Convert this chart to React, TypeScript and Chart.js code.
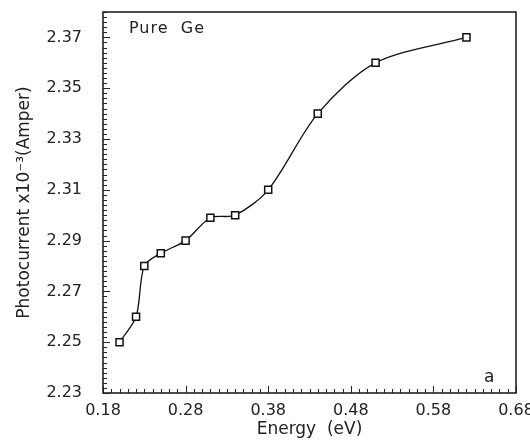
import React, { useEffect, useRef } from 'react';
import { Chart, registerables } from 'chart.js';

Chart.register(...registerables);

const energy = [0.2, 0.22, 0.23, 0.25, 0.28, 0.31, 0.34, 0.38, 0.44, 0.51, 0.62];
const photocurrent = [2.25, 2.26, 2.28, 2.285, 2.29, 2.299, 2.3, 2.31, 2.34, 2.36, 2.37];
const xTickValues = [0.18, 0.28, 0.38, 0.48, 0.58, 0.68];
const yTickValues = [2.23, 2.25, 2.27, 2.29, 2.31, 2.33, 2.35, 2.37];
const xRange = [0.18, 0.68];
const yRange = [2.23, 2.38];
const seriesLabel = 'Pure  Ge';
const panelLabel = 'a';
const xTitle = 'Energy  (eV)';
const yTitle = 'Photocurrent x10\u207B\u00B3(Amper)';

const FONT = '"DejaVu Sans", "Liberation Sans", sans-serif';
const INK = '#222';

const framePlugin = {
  id: 'frame',
  afterDatasetsDraw(chart: any) {
    const { ctx, chartArea } = chart;
    const xs = chart.scales.x;
    const ys = chart.scales.y;
    ctx.save();
    ctx.strokeStyle = INK;
    ctx.lineWidth = 1;
    for (let i = 0; i <= 75; i++) {
      const v = yRange[0] + i * 0.002;
      const py = Math.round(ys.getPixelForValue(v)) + 0.5;
      const len = i % 10 === 0 ? 7 : 4;
      ctx.beginPath();
      ctx.moveTo(chartArea.left, py);
      ctx.lineTo(chartArea.left + len, py);
      ctx.stroke();
    }
    for (let i = 0; i <= 50; i++) {
      const v = xRange[0] + i * 0.01;
      const px = Math.round(xs.getPixelForValue(v)) + 0.5;
      const len = i % 10 === 0 ? 7 : 4;
      ctx.beginPath();
      ctx.moveTo(px, chartArea.bottom);
      ctx.lineTo(px, chartArea.bottom - len);
      ctx.stroke();
    }
    ctx.lineWidth = 1.6;
    ctx.strokeRect(chartArea.left, chartArea.top, chartArea.right - chartArea.left, chartArea.bottom - chartArea.top);
    ctx.fillStyle = INK;
    ctx.font = `16px ${FONT}`;
    ctx.textBaseline = 'alphabetic';
    ctx.textAlign = 'left';
    try { (ctx as any).letterSpacing = '1px'; } catch (e) {}
    ctx.fillText(seriesLabel, chartArea.left + 26, chartArea.top + 21);
    ctx.font = `17px ${FONT}`;
    ctx.fillText(panelLabel, chartArea.right - 32, chartArea.bottom - 11);
    ctx.restore();
  },
};

export default function App() {
  const ref = useRef<HTMLCanvasElement | null>(null);
  useEffect(() => {
    if (!ref.current) return;
    const chart = new Chart(ref.current, {
      type: 'line',
      data: {
        datasets: [
          {
            label: seriesLabel,
            data: energy.map((x, i) => ({ x, y: photocurrent[i] })),
            borderColor: '#111',
            borderWidth: 1.3,
            backgroundColor: '#fff',
            pointStyle: 'rect',
            pointRadius: 5,
            pointBorderWidth: 1.5,
            pointBorderColor: '#111',
            pointBackgroundColor: '#fff',
            tension: 0.3,
            fill: false,
          },
        ],
      },
      options: {
        responsive: false,
        animation: false,
        layout: { padding: { left: 0, top: 12, right: 14, bottom: 0 } },
        plugins: { legend: { display: false }, tooltip: { enabled: false } },
        scales: {
          x: {
            type: 'linear',
            min: xRange[0],
            max: xRange[1],
            grid: { display: false, drawTicks: false },
            border: { display: false },
            afterBuildTicks: (s: any) => {
              s.ticks = xTickValues.map((v) => ({ value: v }));
            },
            afterFit: (s: any) => {
              s.height = 53;
              s.paddingLeft = 0;
              s.paddingRight = 0;
            },
            ticks: {
              autoSkip: false,
              maxRotation: 0,
              padding: 8,
              color: INK,
              font: { family: FONT, size: 16 },
              callback: (v: any) => Number(v).toFixed(2),
            },
            title: {
              display: true,
              text: xTitle,
              color: INK,
              font: { family: FONT, size: 17 },
              padding: { top: 0, bottom: 6 },
            },
          },
          y: {
            type: 'linear',
            min: yRange[0],
            max: yRange[1],
            grid: { display: false, drawTicks: false },
            border: { display: false },
            afterBuildTicks: (s: any) => {
              s.ticks = yTickValues.map((v) => ({ value: v }));
            },
            afterFit: (s: any) => {
              s.width = 103;
              s.paddingTop = 0;
              s.paddingBottom = 0;
            },
            ticks: {
              autoSkip: false,
              padding: 21,
              color: INK,
              font: { family: FONT, size: 16 },
              callback: (v: any) => Number(v).toFixed(2),
            },
            title: {
              display: true,
              text: yTitle,
              color: INK,
              font: { family: FONT, size: 17 },
              padding: { top: 14, bottom: 0 },
            },
          },
        },
      },
      plugins: [framePlugin],
    } as any);
    return () => chart.destroy();
  }, []);
  return (
    <div style={{ position: 'fixed', left: 0, top: 0, width: 530, height: 446, background: '#fff' }}>
      <canvas ref={ref} width={530} height={446} />
    </div>
  );
}
